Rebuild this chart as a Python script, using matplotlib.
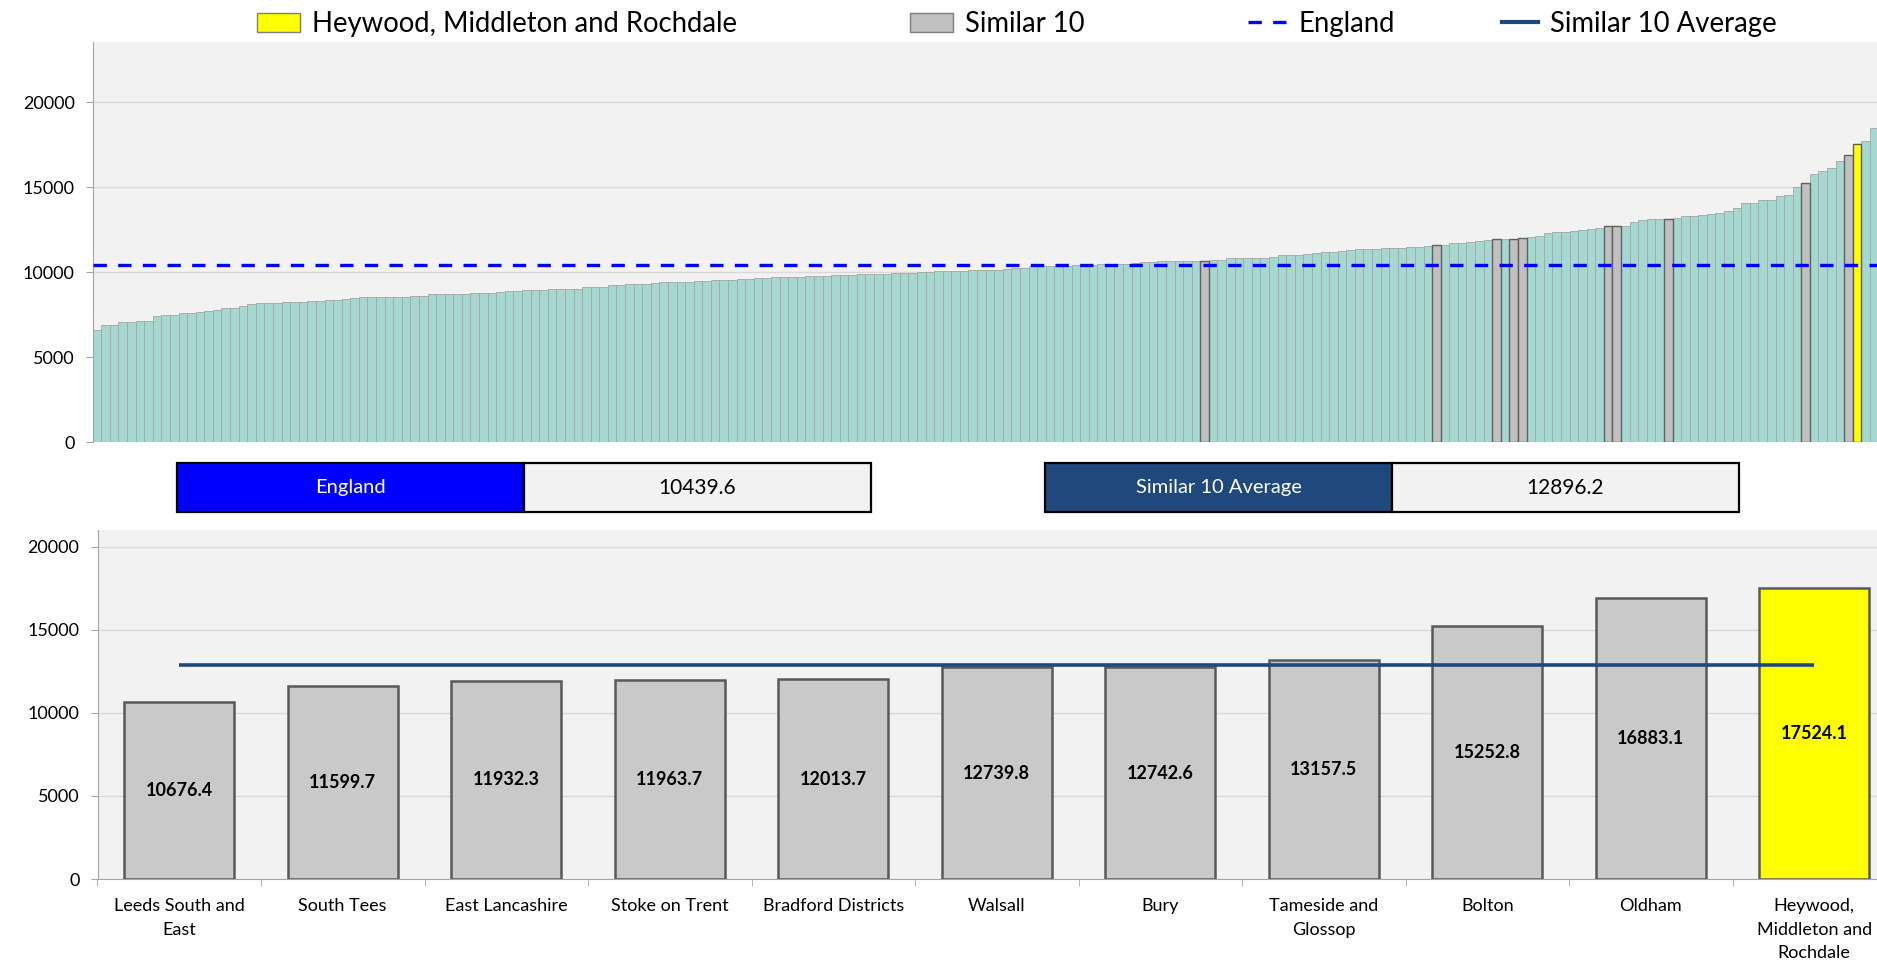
import matplotlib
matplotlib.use("Agg")
import matplotlib.pyplot as plt
from matplotlib.patches import Patch, Rectangle
from matplotlib.lines import Line2D
import numpy as np

plt.rcParams["font.family"] = ["Lato", "DejaVu Sans"]

# every CCG, sorted ascending
ccg_values = [
    6590, 6880, 6885, 7080, 7100, 7140, 7145, 7400, 7480, 7500,
    7610, 7620, 7690, 7730, 7790, 7890, 7910, 8010, 8130, 8165,
    8170, 8175, 8260, 8270, 8280, 8290, 8300, 8380, 8390, 8420,
    8500, 8540, 8545, 8555, 8560, 8565, 8570, 8600, 8620, 8700,
    8705, 8720, 8730, 8750, 8760, 8800, 8805, 8820, 8890, 8900,
    8940, 8950, 8980, 8990, 9005, 9010, 9030, 9130, 9145, 9150,
    9230, 9250, 9285, 9290, 9295, 9350, 9415, 9420, 9440, 9455,
    9460, 9515, 9520, 9525, 9540, 9615, 9620, 9640, 9680, 9695,
    9700, 9702, 9705, 9755, 9760, 9765, 9815, 9820, 9840, 9875,
    9878, 9880, 9885, 9935, 9940, 9960, 10020, 10040, 10060, 10080,
    10095, 10100, 10105, 10120, 10140, 10160, 10189, 10267, 10270, 10346,
    10350, 10352, 10365, 10385, 10404, 10424, 10444, 10483, 10503, 10505,
    10508, 10522, 10581, 10620, 10640, 10642, 10659, 10665, 10670, 10676.4,
    10699, 10738, 10816, 10820, 10836, 10840, 10855, 10875, 11012, 11032,
    11035, 11071, 11150, 11189, 11208, 11247, 11306, 11346, 11365, 11385,
    11404, 11406, 11424, 11463, 11483, 11561, 11599.7, 11630, 11700, 11705,
    11800, 11840, 11920, 11932.3, 11950, 11963.7, 12013.7, 12077, 12116, 12332,
    12350, 12390, 12400, 12508, 12547, 12587, 12739.8, 12742.6, 12750, 12940,
    13096, 13136, 13150, 13157.5, 13214, 13312, 13332, 13351, 13430, 13469,
    13626, 13783, 14057, 14096, 14234, 14253, 14489, 14547, 15018, 15252.8,
    15783, 15939, 16155, 16547, 16883.1, 17524.1, 17700, 18500,
]

similar_labels = [
    "Leeds South and\nEast", "South Tees", "East Lancashire", "Stoke on Trent",
    "Bradford Districts", "Walsall", "Bury", "Tameside and\nGlossop",
    "Bolton", "Oldham",
]
similar_values = [10676.4, 11599.7, 11932.3, 11963.7, 12013.7,
                  12739.8, 12742.6, 13157.5, 15252.8, 16883.1]
highlight_label = "Heywood,\nMiddleton and\nRochdale"
highlight_value = 17524.1

england_value = 10439.6
similar_avg = 12896.2

TEAL = "#a6d8d2"
GREY = "#c0c0c0"
GREY2 = "#c9c9c9"
YELLOW = "#ffff00"
BLUE = "#0000ff"
NAVY = "#1f497d"
BG = "#f2f2f2"
GRID = "#d9d9d9"
AXIS = "#a6a6a6"

W, H = 1877, 960
fig = plt.figure(figsize=(W / 100, H / 100), dpi=100)


def fx(px):
    return px / W


def fy(py):
    return 1 - py / H


def style_axes(ax):
    ax.set_facecolor(BG)
    ax.set_axisbelow(True)
    ax.grid(axis="y", color=GRID, lw=1)
    for s in ("top", "right"):
        ax.spines[s].set_visible(False)
    ax.spines["left"].set_color(AXIS)
    ax.spines["bottom"].set_color(AXIS)
    ax.set_yticks([0, 5000, 10000, 15000, 20000])
    ax.tick_params(axis="y", length=5, color=AXIS, pad=8, labelsize=13)


# ---- top: all CCGs ----
ax1 = fig.add_axes([fx(92.7), fy(442.3), fx(1878.6 - 92.7), (442.3 - 41.9) / H])
style_axes(ax1)
plain = [i for i, v in enumerate(ccg_values) if v not in similar_values and v != highlight_value]
sim = [i for i, v in enumerate(ccg_values) if v in similar_values]
hi = [i for i, v in enumerate(ccg_values) if v == highlight_value]
ax1.bar(plain, [ccg_values[i] for i in plain], width=1.0, color=TEAL,
        edgecolor="#a9a4a4", linewidth=0.6, zorder=2)
ax1.bar(sim, [ccg_values[i] for i in sim], width=1.0, color=GREY,
        edgecolor="#606060", linewidth=1.0, zorder=3)
ax1.bar(hi, [ccg_values[i] for i in hi], width=1.0, color=YELLOW,
        edgecolor="#606060", linewidth=1.0, zorder=3)
ax1.axhline(england_value, color=BLUE, lw=2.4, ls=(0, (4, 3.4)), zorder=4)
ax1.set_xlim(-0.5, len(ccg_values) - 0.5)
ax1.set_ylim(0, 23550)
ax1.set_xticks([])
ax1.spines["bottom"].set_visible(False)

# ---- info boxes ----
def info_box(x0, label, value, color):
    y0, y1 = 463, 512
    wbox = 347
    fig.add_artist(Rectangle((fx(x0), fy(y1)), fx(wbox), (y1 - y0) / H,
                             transform=fig.transFigure, facecolor=color,
                             edgecolor="black", lw=1.6))
    fig.add_artist(Rectangle((fx(x0 + wbox), fy(y1)), fx(wbox), (y1 - y0) / H,
                             transform=fig.transFigure, facecolor=BG,
                             edgecolor="black", lw=1.6))
    yc = fy((y0 + y1) / 2)
    fig.text(fx(x0 + wbox / 2), yc, label, color="white", ha="center",
             va="center", fontsize=14.5)
    fig.text(fx(x0 + 1.5 * wbox), yc, f"{value:.1f}", color="black",
             ha="center", va="center", fontsize=15)


info_box(177, "England", england_value, BLUE)
info_box(1045, "Similar 10 Average", similar_avg, NAVY)

# ---- bottom: similar 10 + highlight ----
ax2 = fig.add_axes([fx(97.5), fy(879), fx(163.5 * 11), (879 - 530) / H])
style_axes(ax2)
names = similar_labels + [highlight_label]
vals = similar_values + [highlight_value]
pos = np.arange(len(vals))
ax2.bar(pos, vals, width=0.67, color=[GREY2] * len(similar_values) + [YELLOW],
        edgecolor="#595959", linewidth=1.8, zorder=2)
ax2.hlines(similar_avg, pos[0], pos[-1], color=NAVY, lw=2.6, zorder=3)
for p, v in zip(pos, vals):
    ax2.text(p, v / 2, f"{v:.1f}", ha="center", va="center",
             fontsize=13, fontweight="bold", zorder=4)
ax2.set_xlim(-0.5, len(vals) - 0.5)
ax2.set_ylim(0, 21000)
ax2.set_xticks(pos)
ax2.set_xticklabels(names, fontsize=13, linespacing=1.55)
ax2.tick_params(axis="x", which="major", length=0, pad=14)
ax2.set_xticks(np.arange(-0.5, len(vals), 1.0), minor=True)
ax2.tick_params(axis="x", which="minor", length=5, color=AXIS)

# ---- legend ----
ly = fy(24)
items = [
    (257, Patch(facecolor=YELLOW, edgecolor="#7f7f7f", lw=1),
     "Heywood, Middleton and Rochdale", 1.55),
    (910, Patch(facecolor=GREY, edgecolor="#7f7f7f", lw=1), "Similar 10", 1.55),
    (1248, Line2D([], [], color=BLUE, lw=2.4, ls=(0, (4, 3.4))), "England", 1.4),
    (1502, Line2D([], [], color=NAVY, lw=3), "Similar 10 Average", 1.3),
]
for px, h, lab, hl in items:
    fig.legend(handles=[h], labels=[lab], loc="center left",
               bbox_to_anchor=(fx(px), ly), frameon=False, borderpad=0,
               borderaxespad=0, handlelength=hl, handletextpad=0.45,
               fontsize=19.8)

fig.savefig("out.png", dpi=100)
